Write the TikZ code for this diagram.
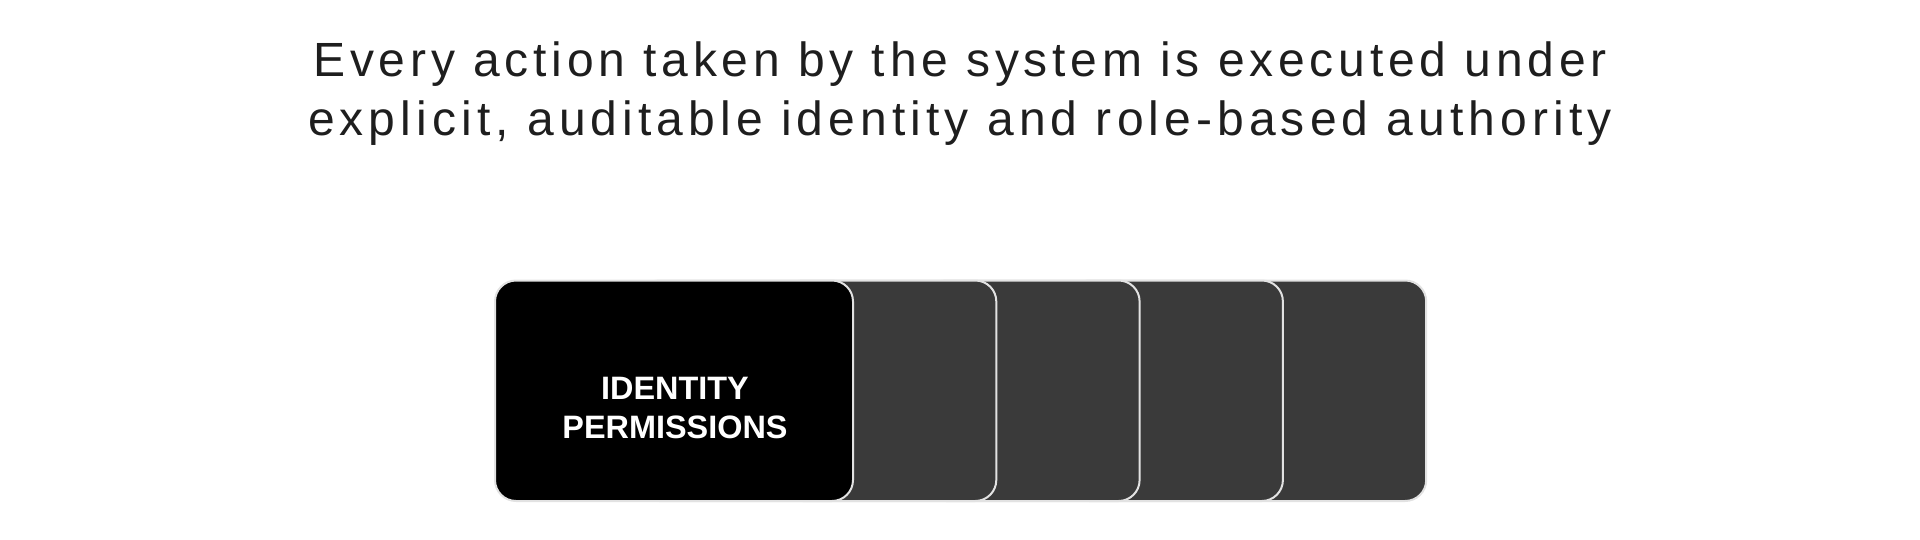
\documentclass[tikz,border=0pt]{standalone}
\usepackage{fontspec}
\setmainfont{Liberation Sans}
\newfontfamily\headfont{Liberation Sans}[LetterSpace=10]
\newfontfamily\headfontb{Liberation Sans}[LetterSpace=10.6]
\definecolor{CardClr}{HTML}{3A3A3A}
\definecolor{EdgeClr}{HTML}{E2E2E2}
\definecolor{HeadClr}{HTML}{1E1E1E}

\begin{document}
\begin{tikzpicture}[x=0.5pt,y=-0.5pt]
\tikzset{card/.style={rectangle,rounded corners=10.5pt,minimum width=179pt,minimum height=110.25pt,
  inner sep=0pt,draw=EdgeClr,line width=1pt,fill=CardClr}}
\tikzset{head/.style={anchor=base,inner sep=0pt,text=HeadClr,font=\headfont\fontsize{24}{27}\selectfont}}
\useasboundingbox (0,0) rectangle (1920,540);

% Step 1. heading
\node[head] (headA) at (960,76.7) {Every action taken by the system is executed under};
\node[head,font=\headfontb\fontsize{24}{27}\selectfont] (headB) at (960,135) {explicit, auditable identity and role-based authority};

% Step 2. cards, back to front
\node[card] (cardE) at (1247.2,390.75) {};
\node[card] (cardD) at (1103.9,390.75) {};
\node[card] (cardC) at (960.6,390.75) {};
\node[card] (cardB) at (817.3,390.75) {};
\node[card,fill=black] (cardA) at (674,390.75) {};

% Step 3. front label
\node[inner sep=0pt,align=center,text=white,font=\bfseries\fontsize{16.2}{19.5}\selectfont] (idLabel) at (675,408.2) {IDENTITY\\PERMISSIONS};

\end{tikzpicture}
\end{document}
